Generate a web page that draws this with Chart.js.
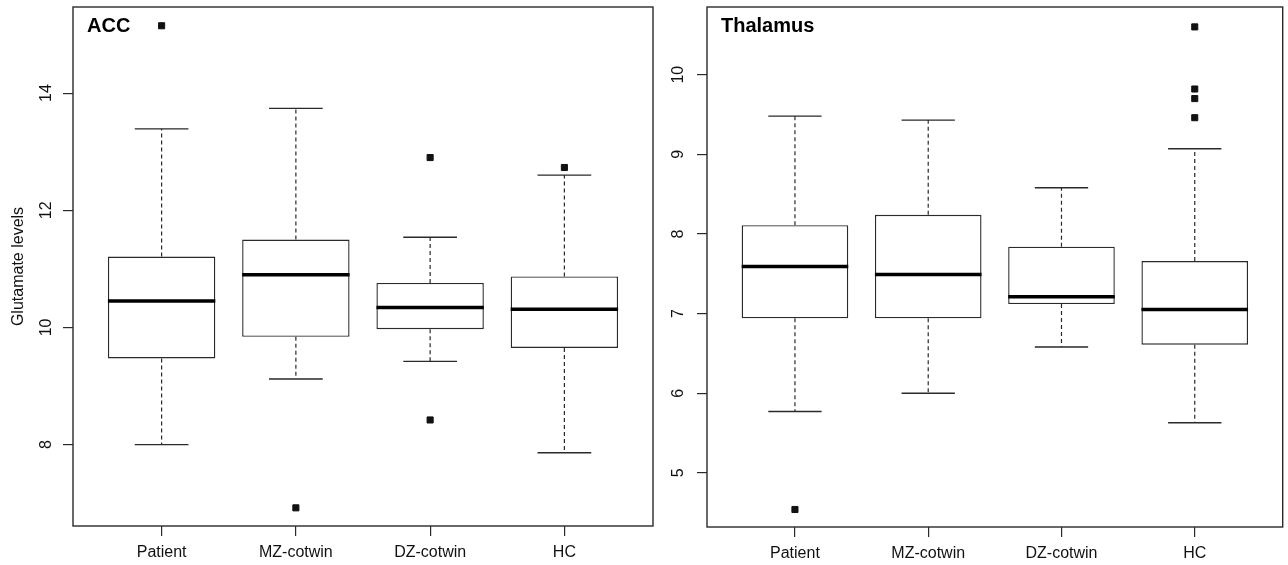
<!DOCTYPE html>
<html>
<head>
<meta charset="utf-8">
<script src="https://cdn.jsdelivr.net/npm/chart.js@4.4.1/dist/chart.umd.min.js"></script>
<style>
  html, body { margin: 0; padding: 0; background: #fff; }
  #wrap { position: relative; width: 1288px; height: 565px; overflow: hidden; }
  #wrap canvas { position: absolute; top: 0; }
</style>
</head>
<body>
<div id="wrap">
  <canvas id="accChart" width="660" height="565" style="left:0"></canvas>
  <canvas id="thalChart" width="648" height="565" style="left:640px"></canvas>
</div>
<script>
// groups on the x axis
const categories = ['Patient', 'MZ-cotwin', 'DZ-cotwin', 'HC'];

// ACC panel
const accLow = [8.00, 9.12, 9.42, 7.86];
const accQ1 = [9.47, 9.84, 9.97, 9.65];
const accMedian = [10.45, 10.90, 10.34, 10.31];
const accQ3 = [11.21, 11.50, 10.76, 10.87];
const accHigh = [13.39, 13.74, 11.54, 12.60];
const accOutliers = [[15.15], [6.92], [12.90, 8.42], [12.73]];
const accTicks = [8, 10, 12, 14];

// Thalamus panel
const thalLow = [5.77, 6.00, 6.58, 5.63];
const thalQ1 = [6.94, 6.94, 7.12, 6.61];
const thalMedian = [7.59, 7.49, 7.21, 7.05];
const thalQ3 = [8.11, 8.24, 7.84, 7.66];
const thalHigh = [9.48, 9.43, 8.58, 9.07];
const thalOutliers = [[4.54], [], [], [10.60, 9.82, 9.70, 9.46]];
const thalTicks = [5, 6, 7, 8, 9, 10];

Chart.defaults.font.family = "'Liberation Sans', Arial, sans-serif";
Chart.defaults.color = '#111';

const LINE = '#2a2a2a';

// whiskers, caps, medians, frame and panel label
const boxplotPlugin = {
    id: 'boxplot',
    beforeDatasetsDraw(chart, args, opts) {
        const { ctx, scales: { x, y } } = chart;
        ctx.save();
        ctx.strokeStyle = LINE;
        ctx.lineWidth = 1.2;
        opts.low.forEach((lo, i) => {
            const cx = x.getPixelForValue(i + 1);
            const capL = x.getPixelForValue(i + 1 - 0.2);
            const capR = x.getPixelForValue(i + 1 + 0.2);
            const yHigh = y.getPixelForValue(opts.high[i]);
            const yLow = y.getPixelForValue(lo);
            ctx.setLineDash([4, 3]);
            ctx.beginPath();
            ctx.moveTo(cx, y.getPixelForValue(opts.q3[i]));
            ctx.lineTo(cx, yHigh);
            ctx.moveTo(cx, y.getPixelForValue(opts.q1[i]));
            ctx.lineTo(cx, yLow);
            ctx.stroke();
            ctx.setLineDash([]);
            ctx.lineWidth = 1.4;
            ctx.beginPath();
            ctx.moveTo(capL, yHigh);
            ctx.lineTo(capR, yHigh);
            ctx.moveTo(capL, yLow);
            ctx.lineTo(capR, yLow);
            ctx.stroke();
            ctx.lineWidth = 1.2;
        });
        ctx.restore();
    },
    afterDatasetsDraw(chart, args, opts) {
        const { ctx, chartArea, scales: { x, y } } = chart;
        ctx.save();
        ctx.strokeStyle = '#000';
        ctx.lineWidth = 3.5;
        opts.median.forEach((m, i) => {
            const ym = y.getPixelForValue(m);
            ctx.beginPath();
            ctx.moveTo(x.getPixelForValue(i + 1 - 0.4), ym);
            ctx.lineTo(x.getPixelForValue(i + 1 + 0.4), ym);
            ctx.stroke();
        });
        // box round the plot, like R's box()
        ctx.strokeStyle = LINE;
        ctx.lineWidth = 1.4;
        ctx.strokeRect(chartArea.left, chartArea.top, chartArea.right - chartArea.left, chartArea.bottom - chartArea.top);
        // panel label
        ctx.fillStyle = '#000';
        ctx.font = "bold 20px 'Liberation Sans', Arial, sans-serif";
        ctx.textBaseline = 'top';
        ctx.fillText(opts.label, chartArea.left + 14, chartArea.top + 9);
        ctx.restore();
    }
};

function makeBoxChart(canvasId, p) {
    const boxData = categories.map((c, i) => ({ x: i + 1, y: [p.q1[i], p.q3[i]] }));
    const outlierData = [];
    p.outliers.forEach((list, i) => list.forEach(v => outlierData.push({ x: i + 1, y: v })));

    return new Chart(document.getElementById(canvasId), {
        type: 'bar',
        data: {
            datasets: [{
                type: 'bar',
                data: boxData,
                backgroundColor: '#fff',
                borderColor: LINE,
                borderWidth: 1.4,
                borderSkipped: false,
                categoryPercentage: 1,
                barPercentage: 0.8
            }, {
                type: 'scatter',
                data: outlierData,
                pointStyle: 'rect',
                pointRadius: 4.3,
                backgroundColor: '#111',
                borderColor: '#111',
                borderWidth: 1
            }]
        },
        options: {
            responsive: false,
            animation: false,
            events: [],
            layout: { padding: { left: 0, top: 7, right: p.padRight, bottom: 0 } },
            plugins: {
                legend: { display: false },
                tooltip: { enabled: false },
                boxplot: { low: p.low, q1: p.q1, median: p.median, q3: p.q3, high: p.high, label: p.label }
            },
            scales: {
                x: {
                    type: 'linear',
                    min: 0.34,
                    max: 4.66,
                    offset: false,
                    border: { display: false },
                    grid: { offset: false, drawOnChartArea: false, drawTicks: true, tickLength: 10, color: LINE, lineWidth: 1.2 },
                    ticks: {
                        font: { size: 16 },
                        padding: 7,
                        maxRotation: 0,
                        autoSkip: false,
                        callback: v => categories[Math.round(v) - 1]
                    },
                    afterBuildTicks: s => { s.ticks = categories.map((c, i) => ({ value: i + 1 })); },
                    afterFit: s => { s.height = p.xHeight; s.paddingLeft = 0; s.paddingRight = 0; }
                },
                y: {
                    min: p.min,
                    max: p.max,
                    border: { display: false },
                    grid: { drawOnChartArea: false, drawTicks: true, tickLength: 10, color: LINE, lineWidth: 1.2 },
                    ticks: {
                        font: { size: 16 },
                        padding: p.tickPad,
                        minRotation: 90,
                        maxRotation: 90,
                        crossAlign: 'center',
                        autoSkip: false
                    },
                    title: {
                        display: !!p.yTitle,
                        text: p.yTitle,
                        font: { size: 16 },
                        color: '#111',
                        padding: { top: 9, bottom: 0 }
                    },
                    afterBuildTicks: s => { s.ticks = p.ticks.map(v => ({ value: v })); },
                    afterFit: s => { s.width = p.yWidth; s.paddingTop = 0; s.paddingBottom = 0; }
                }
            }
        },
        plugins: [boxplotPlugin]
    });
}

makeBoxChart('accChart', {
    low: accLow, q1: accQ1, median: accMedian, q3: accQ3, high: accHigh,
    outliers: accOutliers, ticks: accTicks, min: 6.61, max: 15.47,
    label: 'ACC', yTitle: 'Glutamate levels', tickPad: 8,
    yWidth: 73, padRight: 7, xHeight: 39
});

makeBoxChart('thalChart', {
    low: thalLow, q1: thalQ1, median: thalMedian, q3: thalQ3, high: thalHigh,
    outliers: thalOutliers, ticks: thalTicks, min: 4.32, max: 10.85,
    label: 'Thalamus', yTitle: '', tickPad: 10,
    yWidth: 67, padRight: 1, xHeight: 38
});
</script>
</body>
</html>
